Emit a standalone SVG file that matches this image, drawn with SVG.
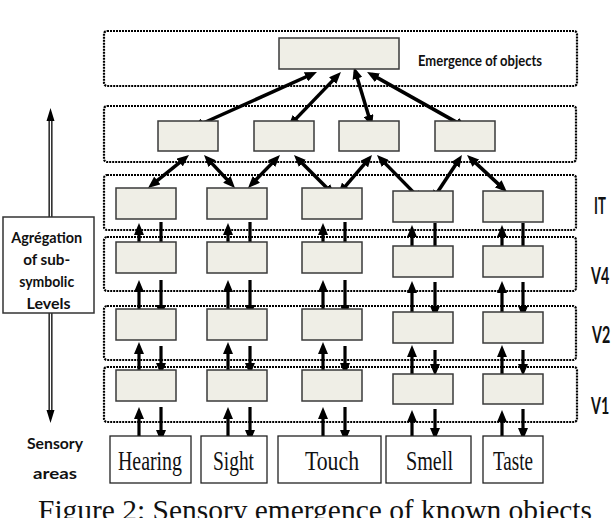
<svg xmlns="http://www.w3.org/2000/svg" width="614" height="518" viewBox="0 0 614 518">
<defs>
<style>
.layer{fill:none;stroke:#000;stroke-width:2.2;stroke-dasharray:2 1}
.node{fill:#EFEEE6;stroke:#3a3a3a;stroke-width:1.5}
.sense{fill:#fff;stroke:#222;stroke-width:1.3}
.lbl{font-family:Lato,"Liberation Sans",sans-serif;font-weight:bold;fill:#111}
.lvl{font-family:Lato,"Liberation Sans",sans-serif;font-weight:bold;fill:#111;font-size:22px}
.serif{font-family:"Liberation Serif","Times New Roman",serif;fill:#111}
.arr{stroke:#000;stroke-width:3.5;fill:none;marker-start:url(#ah);marker-end:url(#ah)}
.one{stroke:#000;stroke-width:3.2;fill:none;marker-end:url(#ah)}
</style>
<marker id="ah" viewBox="0 0 12 10" refX="7" refY="5" markerWidth="12" markerHeight="10" markerUnits="userSpaceOnUse" orient="auto-start-reverse">
<path d="M0,0 L12,5 L0,10 z" fill="#000"/>
</marker>
</defs>
<rect width="614" height="518" fill="#fff"/>

<g id="layers">
<rect class="layer" x="104" y="31" width="473" height="55" rx="3"/>
<rect class="layer" x="104" y="106" width="472" height="56" rx="3"/>
<rect class="layer" x="104" y="175" width="472" height="55" rx="3"/>
<rect class="layer" x="104" y="237" width="472" height="54" rx="3"/>
<rect class="layer" x="104" y="306" width="472" height="54" rx="3"/>
<rect class="layer" x="104" y="367" width="473" height="55" rx="3"/>
</g>

<g id="connectors">
<line class="arr" x1="312.4" y1="74" x2="196.6" y2="126"/>
<line class="arr" x1="337.5" y1="75.6" x2="291.5" y2="123.4"/>
<line class="arr" x1="355.4" y1="71.8" x2="370.6" y2="122.2"/>
<line class="arr" x1="371.4" y1="74.4" x2="462.6" y2="125.6"/>
<line class="arr" x1="185.1" y1="158.1" x2="151.9" y2="184.9"/>
<line class="arr" x1="207.4" y1="158.6" x2="231.6" y2="184.4"/>
<line class="arr" x1="276.5" y1="158.6" x2="251.5" y2="184.4"/>
<line class="arr" x1="297.5" y1="158.5" x2="331.5" y2="192.5"/>
<line class="arr" x1="368.8" y1="158.8" x2="341.2" y2="191.2"/>
<line class="arr" x1="380.5" y1="158.6" x2="419.5" y2="198.4"/>
<line class="arr" x1="459.2" y1="159.2" x2="433.8" y2="197.8"/>
<line class="arr" x1="470.7" y1="158.4" x2="503.3" y2="188.6"/>

<!-- IT <-> V4 -->
<line class="one" x1="139" y1="258" x2="139" y2="228"/>
<line class="one" x1="228" y1="258" x2="228" y2="228"/>
<line class="one" x1="323" y1="258" x2="323" y2="228"/>
<line class="one" x1="412" y1="259" x2="412" y2="230"/>
<line class="one" x1="502" y1="259" x2="502" y2="230"/>
<line class="one" x1="161" y1="222" x2="161" y2="252"/>
<line class="one" x1="250" y1="222" x2="250" y2="252"/>
<line class="one" x1="345" y1="222" x2="345" y2="252"/>
<line class="one" x1="435" y1="223" x2="435" y2="254"/>
<line class="one" x1="523" y1="223" x2="523" y2="254"/>
<!-- V4 <-> V2 -->
<line class="one" x1="139" y1="316" x2="139" y2="285"/>
<line class="one" x1="228" y1="316" x2="228" y2="285"/>
<line class="one" x1="323" y1="316" x2="323" y2="285"/>
<line class="one" x1="412" y1="318" x2="412" y2="286"/>
<line class="one" x1="502" y1="318" x2="502" y2="286"/>
<line class="one" x1="161" y1="280" x2="161" y2="312"/>
<line class="one" x1="250" y1="280" x2="250" y2="312"/>
<line class="one" x1="345" y1="280" x2="345" y2="312"/>
<line class="one" x1="435" y1="282" x2="435" y2="313"/>
<line class="one" x1="523" y1="282" x2="523" y2="313"/>
<!-- V2 <-> V1 -->
<line class="one" x1="139" y1="377" x2="139" y2="347"/>
<line class="one" x1="228" y1="377" x2="228" y2="347"/>
<line class="one" x1="323" y1="377" x2="323" y2="347"/>
<line class="one" x1="412" y1="380" x2="412" y2="350"/>
<line class="one" x1="502" y1="380" x2="502" y2="350"/>
<line class="one" x1="161" y1="346" x2="161" y2="370"/>
<line class="one" x1="250" y1="346" x2="250" y2="370"/>
<line class="one" x1="345" y1="346" x2="345" y2="370"/>
<line class="one" x1="435" y1="350" x2="435" y2="371"/>
<line class="one" x1="523" y1="350" x2="523" y2="371"/>
<!-- V1 <-> Sensory -->
<line class="one" x1="139" y1="443" x2="139" y2="412"/>
<line class="one" x1="228" y1="443" x2="228" y2="412"/>
<line class="one" x1="323" y1="443" x2="323" y2="412"/>
<line class="one" x1="412" y1="443" x2="412" y2="415"/>
<line class="one" x1="502" y1="443" x2="502" y2="415"/>
<line class="one" x1="161" y1="407" x2="161" y2="437"/>
<line class="one" x1="250" y1="407" x2="250" y2="437"/>
<line class="one" x1="345" y1="407" x2="345" y2="437"/>
<line class="one" x1="435" y1="409" x2="435" y2="435"/>
<line class="one" x1="523" y1="409" x2="523" y2="435"/>

<!-- left aggregation arrow -->
<line x1="50.5" y1="120" x2="50.5" y2="411" stroke="#000" stroke-width="4"/>
<line x1="50.5" y1="120" x2="50.5" y2="411" stroke="#fff" stroke-width="1.4"/>
<path d="M50.5,108 L46.5,121 L54.5,121 z M50.5,423 L46.5,410 L54.5,410 z" fill="#000"/>
</g>

<g id="node-top"><rect class="node" x="279" y="38" width="120" height="31"/></g>
<g id="node-r2-1"><rect class="node" x="158" y="121" width="60" height="30"/></g>
<g id="node-r2-2"><rect class="node" x="254" y="121" width="60" height="30"/></g>
<g id="node-r2-3"><rect class="node" x="339" y="121" width="60" height="30"/></g>
<g id="node-r2-4"><rect class="node" x="435" y="121" width="60" height="30"/></g>

<g id="node-it-1"><rect class="node" x="116" y="188" width="60" height="31"/></g>
<g id="node-it-2"><rect class="node" x="207" y="188" width="60" height="31"/></g>
<g id="node-it-3"><rect class="node" x="302" y="188" width="60" height="31"/></g>
<g id="node-it-4"><rect class="node" x="393" y="191" width="60" height="31"/></g>
<g id="node-it-5"><rect class="node" x="483" y="191" width="60" height="31"/></g>

<g id="node-v4-1"><rect class="node" x="116" y="242" width="60" height="31"/></g>
<g id="node-v4-2"><rect class="node" x="207" y="242" width="60" height="31"/></g>
<g id="node-v4-3"><rect class="node" x="302" y="242" width="60" height="31"/></g>
<g id="node-v4-4"><rect class="node" x="393" y="246" width="60" height="31"/></g>
<g id="node-v4-5"><rect class="node" x="483" y="246" width="60" height="31"/></g>

<g id="node-v2-1"><rect class="node" x="116" y="309" width="60" height="31"/></g>
<g id="node-v2-2"><rect class="node" x="207" y="309" width="60" height="31"/></g>
<g id="node-v2-3"><rect class="node" x="302" y="309" width="60" height="31"/></g>
<g id="node-v2-4"><rect class="node" x="393" y="312" width="60" height="31"/></g>
<g id="node-v2-5"><rect class="node" x="483" y="312" width="60" height="31"/></g>

<g id="node-v1-1"><rect class="node" x="116" y="370" width="60" height="31"/></g>
<g id="node-v1-2"><rect class="node" x="207" y="370" width="60" height="31"/></g>
<g id="node-v1-3"><rect class="node" x="302" y="370" width="60" height="31"/></g>
<g id="node-v1-4"><rect class="node" x="393" y="374" width="60" height="30"/></g>
<g id="node-v1-5"><rect class="node" x="483" y="374" width="60" height="30"/></g>

<g id="sense-hearing"><rect class="sense" x="110" y="436" width="81" height="47"/><text class="serif" x="118" y="470" font-size="28" textLength="64" lengthAdjust="spacingAndGlyphs">Hearing</text></g>
<g id="sense-sight"><rect class="sense" x="201" y="436" width="66" height="47"/><text class="serif" x="213" y="470" font-size="28" textLength="41" lengthAdjust="spacingAndGlyphs">Sight</text></g>
<g id="sense-touch"><rect class="sense" x="278" y="436" width="103" height="47"/><text class="serif" x="305" y="470" font-size="28" textLength="54" lengthAdjust="spacingAndGlyphs">Touch</text></g>
<g id="sense-smell"><rect class="sense" x="386" y="436" width="85" height="47"/><text class="serif" x="406" y="470" font-size="28" textLength="47" lengthAdjust="spacingAndGlyphs">Smell</text></g>
<g id="sense-taste"><rect class="sense" x="483" y="436" width="60" height="47"/><text class="serif" x="493" y="470" font-size="28" textLength="40" lengthAdjust="spacingAndGlyphs">Taste</text></g>

<g id="aggregation">
<rect x="3" y="217" width="91" height="96" fill="#fff" stroke="#333" stroke-width="1.5"/>
<text class="lbl" font-size="15" text-anchor="middle">
<tspan x="48.5" y="243" textLength="71" lengthAdjust="spacingAndGlyphs">Agrégation</tspan>
<tspan x="48.5" y="265" textLength="47" lengthAdjust="spacingAndGlyphs">of sub-</tspan>
<tspan x="48.5" y="287" textLength="55" lengthAdjust="spacingAndGlyphs">symbolic</tspan>
<tspan x="48.5" y="309" textLength="44" lengthAdjust="spacingAndGlyphs">Levels</tspan>
</text>
</g>

<g id="labels">
<text class="lbl" x="418" y="66" font-size="15" textLength="124" lengthAdjust="spacingAndGlyphs">Emergence of objects</text>
<text class="lvl" transform="translate(594,214) scale(0.6,1)">IT</text>
<text class="lvl" transform="translate(591,284) scale(0.65,1)">V4</text>
<text class="lvl" transform="translate(592,343) scale(0.65,1)">V2</text>
<text class="lvl" transform="translate(591,414) scale(0.65,1)">V1</text>
<text class="lbl" x="27" y="449" font-size="16" textLength="56" lengthAdjust="spacingAndGlyphs">Sensory</text>
<text class="lbl" x="33" y="479" font-size="16" textLength="44" lengthAdjust="spacingAndGlyphs">areas</text>
</g>

<g id="caption">
<text class="serif" x="38" y="520" font-size="29" textLength="554" lengthAdjust="spacingAndGlyphs">Figure 2: Sensory emergence of known objects</text>
</g>
</svg>
